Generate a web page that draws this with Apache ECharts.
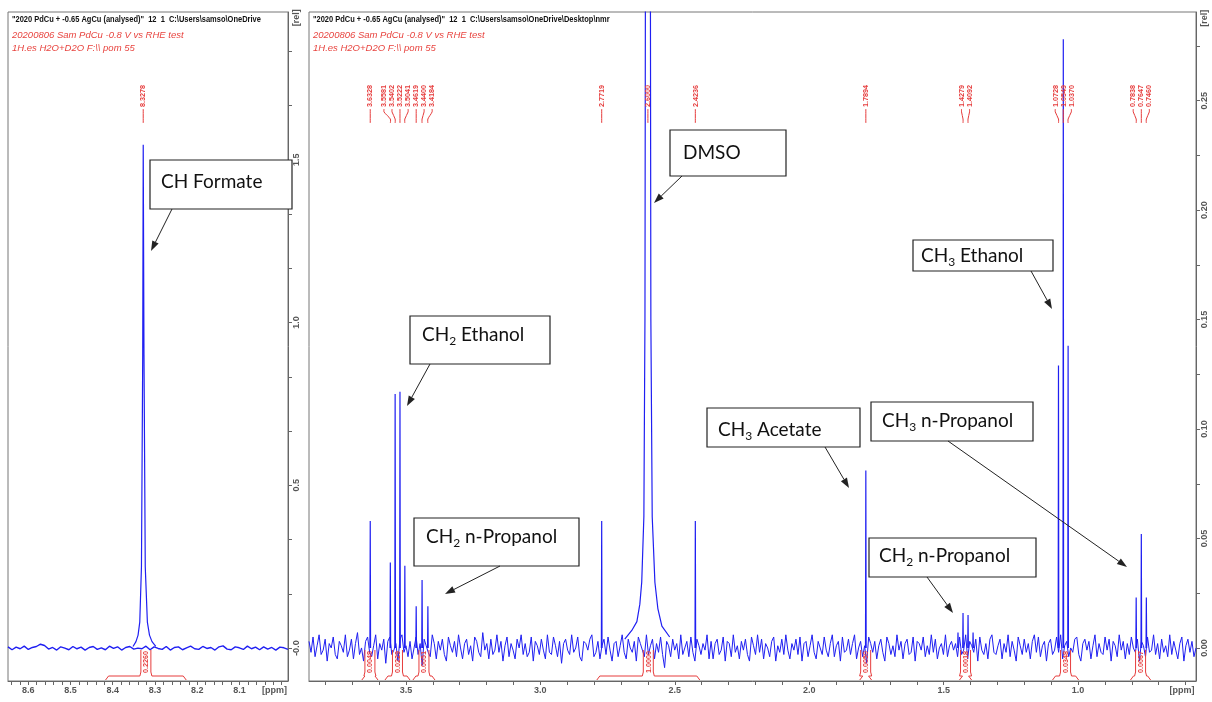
<!DOCTYPE html>
<html><head><meta charset="utf-8">
<script src="https://cdn.jsdelivr.net/npm/echarts@6/dist/echarts.min.js"></script>
<style>html,body{margin:0;padding:0;background:#fff}#c{width:1212px;height:702px}</style>
</head><body><div id="c"></div>
<script>
// ================= DATA =================
// axis ranges (ppm, rel)
const leftPpmRange = [7.985, 8.648];
const rightPpmRange = [0.5613, 3.8606];
const leftRelRange = [-0.101, 1.954];
const rightRelRange = [-0.0151, 0.2905];

// tick labels
const leftXTickLabels = [8.6, 8.5, 8.4, 8.3, 8.2, 8.1];
const rightXTickLabels = [3.5, 3.0, 2.5, 2.0, 1.5, 1.0];
const leftYTickLabels = [0, 0.5, 1.0, 1.5];
const rightYTickLabels = [0, 0.05, 0.10, 0.15, 0.20, 0.25];
const leftPpmUnitAt = 8.017, rightPpmUnitAt = 0.613;
const leftRelUnitAt = 1.936, rightRelUnitAt = 0.2877;

// baseline noise (thousandths of rel), evenly sampled across each panel
const leftNoise = [4,-5,3,-2,6,-4,2,5,12,8, -3,2,-6,4,0,-5,5,-2,3,-6, 2,5,-4,1,-5,6,-1,4,-6,2,
  5,-3,0,-2,6,-5,4,-1,-4,5, -6,2,4,-5,1,6,-2,-4,5,-1, 2,-6,4,7,-3,-5,4,1,-4,6, -2,3,-5,4,-3,2,-6,3,1,-4];
const rightNoise = [
  3,-2,5,-4,1,6,-3,-1,4,-6,2,0,5,-3,-5,3,1,-2,6,-4,
  -1,4,-5,2,7,-3,0,-6,3,5,-2,-4,1,6,-5,2,-1,4,-7,3,
  5,-3,-1,2,-6,4,6,-2,1,-4,3,-5,0,5,-3,2,-8,4,1,-2,
  -4,6,2,-5,3,-1,4,-3,-6,5,1,-2,3,-4,6,0,-5,2,4,-3,
  1,-6,5,3,-2,-4,7,-1,2,-5,4,-3,-1,6,-2,3,-6,1,5,-4,
  2,-1,-5,4,0,6,-3,2,-4,-2,5,-6,3,1,-3,4,-1,-5,6,-2,
  -3,5,1,-4,3,-7,2,4,-1,-3,6,-2,0,5,-4,-6,3,2,-1,4,
  6,-4,-2,3,-5,1,4,-3,5,-1,-6,2,3,-4,1,6,-2,-5,4,0,
  -2,3,-6,5,2,-1,-4,6,-3,1,4,-5,2,-2,5,-3,-9,3,1,-4,
  4,-1,2,-5,6,-3,0,3,-4,5,-2,-6,4,1,-3,2,-1,6,-5,3,
  -5,2,4,-3,-1,5,-6,3,2,-4,6,-2,1,-5,3,-1,4,-3,-6,5,
  1,-3,6,-2,4,-5,2,0,-4,3,5,-6,1,-2,4,-3,6,-1,-5,2,
  -1,4,-3,5,-6,2,3,-4,1,6,-2,-5,3,0,-3,5,-1,-4,2,6,
  -4,1,3,-6,5,-2,-1,4,-3,2,6,-5,0,3,-4,1,-7,5,2,-2,
  3,-5,1,4,-2,-6,5,2,-3,1,-4,6,-1,3,-5,2,4,-3,-2,5,
  -6,3,2,-1,5,-4,1,-3,6,-2,4,-5,0,2,-3,6,-4,1,3,-1,
  2,-4,5,-3,-1,6,-5,3,1,-2,4,-6,5,-1,-3,2,-5,4,6,-2,
  -3,1,4,-5,2,-2,6,-4,3,-1,-6,5,1,-3,4,-2,2,-5,3,6,
  -2,5,-4,1,3,-6,2,4,-3,-1,5,-2,6,-5,1,3,-4,0,-2,4,
  5,-3,-6,2,4,-1,3,-5,1,6,-4,2,-2,-3,5,-1,4,-6,3,1,
  -4,6,-1,3,-5,2,-3,5,0,-2,4,-6,3,1,-4,5,-2,-1,6,-3,
  2,-5,4,-2,1,-4,6,-3,3,-1,-5,2,5,-6,1,4,-2,3,-4,0];

// formate peak (left panel) profile
const formatePpm = [8.352, 8.345, 8.340, 8.336, 8.332, 8.329, 8.3278, 8.326, 8.323, 8.318, 8.313, 8.307, 8.298];
const formateRel = [0.005, 0.02, 0.04, 0.08, 0.25, 0.9, 1.546, 0.9, 0.25, 0.08, 0.04, 0.02, 0.005];

// DMSO peak profile (right panel; top clipped)
const dmsoPpm = [2.686, 2.660, 2.641, 2.630, 2.623, 2.615, 2.611, 2.606, 2.600, 2.594, 2.589, 2.584, 2.574, 2.563, 2.548, 2.519];
const dmsoRel = [0.004, 0.008, 0.012, 0.02, 0.03, 0.06, 0.15, 0.6, 1.5, 0.6, 0.15, 0.06, 0.03, 0.018, 0.01, 0.005];

// narrow peaks (right panel)
const peakPpm = [3.6328, 3.5581, 3.5402, 3.5222, 3.5041, 3.4619, 3.4400, 3.4184, 2.7719, 2.4236, 1.7894,
  1.4466, 1.4279, 1.4092, 1.3905, 1.0728, 1.0549, 1.0370, 0.7838, 0.7647, 0.7460];
const peakRel = [0.058, 0.039, 0.116, 0.117, 0.0375, 0.019, 0.031, 0.019, 0.058, 0.058, 0.081,
  0.007, 0.016, 0.015, 0.007, 0.129, 0.278, 0.138, 0.023, 0.052, 0.023];

// peak pick labels
const leftPeakLabels = ['8.3278'];
const rightPeakLabels = ['3.6328','3.5581','3.5402','3.5222','3.5041','3.4619','3.4400','3.4184','2.7719','2.6000',
  '2.4236','1.7894','1.4279','1.4092','1.0728','1.0549','1.0370','0.7838','0.7647','0.7460'];

// integrals
const leftIntegralFrom = [8.417], leftIntegralTo = [8.226], leftIntegralValue = ['0.2260'];
const rightIntegralFrom = [3.664, 3.578, 3.474, 2.790, 1.812, 1.441, 1.095, 0.805];
const rightIntegralTo   = [3.604, 3.485, 3.392, 2.407, 1.768, 1.396, 0.998, 0.730];
const rightIntegralValue = ['0.0048','0.0229','0.0051','1.0000','0.0050','0.0018','0.0348','0.0067'];

// header texts
const headerTitleLeft = '"2020 PdCu + -0.65 AgCu (analysed)"  12  1  C:\\Users\\samso\\OneDrive';
const headerTitleRight = '"2020 PdCu + -0.65 AgCu (analysed)"  12  1  C:\\Users\\samso\\OneDrive\\Desktop\\nmr';
const headerLine2 = '20200806 Sam PdCu -0.8 V vs RHE test';
const headerLine3 = '1H.es H2O+D2O F:\\\\ pom 55';

// annotation texts
const annotationTexts = ['CH Formate', 'DMSO', 'CH2 Ethanol', 'CH3 Ethanol', 'CH3 Acetate', 'CH3 n-Propanol', 'CH2 n-Propanol', 'CH2 n-Propanol'];

// ================= LAYOUT / STYLE =================
const BLUE = '#1f1ff2', RED = '#e63c3c', AXIS = '#666', LBL = '#555';
// [boxX, boxY, boxW, boxH, textX, textY, fromX, fromY, toX, toY]
const annotationLayout = [
  [150,160,142,49, 161,182, 172,209, 151,251],
  [670,130,116,46, 683,153, 682,176, 654,203],
  [410,316,140,48, 422,335, 430,364, 407,406],
  [913,240,140,31, 921,256, 1031,271, 1052,309],
  [707,408,153,39, 718,430, 825,447, 849,488],
  [871,402,162,39, 882,421, 948,441, 1127,567],
  [414,518,165,48, 426,537, 500,566, 445,594],
  [869,538,167,39, 879,556, 927,577, 953,613]
];
const GRID_TOP = 12, GRID_H = 669, GRID_BOTTOM = GRID_TOP + GRID_H;

function steps(a, b, d) { const out = []; for (let v = a; v <= b + 1e-9; v += d) out.push(+v.toFixed(4)); return out; }
const leftXTicks = steps(8.0, 8.64, 0.02);
const rightXTicks = steps(0.6, 3.8, 0.1);
const leftYTicks = steps(0, 1.84, 1/6);
const rightYTicks = steps(0, 0.28, 0.025);

const axisFont = { fontSize: 9, fontWeight: 'bold', color: LBL, fontFamily: 'Liberation Sans' };

function xAxisCfg(grid, range, ticks, labels, unitAt) {
  return {
    gridIndex: grid, type: 'value', inverse: true, min: range[0], max: range[1], position: 'bottom',
    axisLine: { show: true, onZero: false, lineStyle: { color: AXIS } },
    splitLine: { show: false },
    axisTick: { show: true, customValues: ticks, length: 4, lineStyle: { color: AXIS } },
    axisLabel: Object.assign({ customValues: labels.concat([unitAt]), margin: 5,
      formatter: v => Math.abs(v - unitAt) < 1e-6 ? '[ppm]' : v.toFixed(1) }, axisFont)
  };
}
function yAxisCfg(grid, range, ticks, labels, unitAt, dec) {
  return {
    gridIndex: grid, type: 'value', min: range[0], max: range[1], position: 'right',
    axisLine: { show: true, onZero: false, lineStyle: { color: AXIS } },
    splitLine: { show: false },
    axisTick: { show: true, customValues: ticks, length: 4, lineStyle: { color: AXIS } },
    axisLabel: Object.assign({ customValues: labels.concat([unitAt]), margin: 4, rotate: 90,
      formatter: v => Math.abs(v - unitAt) < 1e-6 ? '[rel]' : (v === 0 ? (dec === 1 ? '-0.0' : '0.00') : v.toFixed(dec)) }, axisFont)
  };
}

function noiseData(noise, range) {
  const n = noise.length;
  return noise.map((v, i) => [range[1] - i * (range[1] - range[0]) / (n - 1), v / 1000]);
}
function lineSeries(xi, data, width) {
  return { type: 'line', xAxisIndex: xi, yAxisIndex: xi, data: data, symbol: 'none', silent: true,
    animation: false, lineStyle: { width: width || 1, color: BLUE }, clip: true, z: 3 };
}

const series = [];
series.push(lineSeries(0, noiseData(leftNoise, leftPpmRange), 1.4));
series.push(lineSeries(0, formatePpm.map((p, i) => [p, formateRel[i]]), 1.2));
series.push(lineSeries(1, noiseData(rightNoise, rightPpmRange), 1));
series.push(lineSeries(1, dmsoPpm.map((p, i) => [p, dmsoRel[i]]), 1.2));
peakPpm.forEach((p, i) => series.push(lineSeries(1, [[p + 0.0012, 0], [p, peakRel[i]], [p - 0.0012, 0]], 1.2)));

const option = {
  animation: false,
  backgroundColor: '#ffffff',
  grid: [
    { left: 8, top: GRID_TOP, width: 280, height: GRID_H, show: true, borderColor: '#777', borderWidth: 1 },
    { left: 309, top: GRID_TOP, width: 887, height: GRID_H, show: true, borderColor: '#777', borderWidth: 1 }
  ],
  xAxis: [
    xAxisCfg(0, leftPpmRange, leftXTicks, leftXTickLabels, leftPpmUnitAt),
    xAxisCfg(1, rightPpmRange, rightXTicks, rightXTickLabels, rightPpmUnitAt)
  ],
  yAxis: [
    yAxisCfg(0, leftRelRange, leftYTicks, leftYTickLabels, leftRelUnitAt, 1),
    yAxisCfg(1, rightRelRange, rightYTicks, rightYTickLabels, rightRelUnitAt, 2)
  ],
  series: series
};

const chart = echarts.init(document.getElementById('c'), null, { renderer: 'canvas' });
chart.setOption(option);

// ================= DECORATION (peak labels, integrals, header, annotations) =================
const px = (ai, v) => chart.convertToPixel({ xAxisIndex: ai }, v);

function spread(xs, gap) {
  let clusters = xs.map((x, i) => ({ s: i, e: i, c: x }));
  let changed = true;
  while (changed) {
    changed = false;
    for (let k = 0; k < clusters.length - 1; k++) {
      const a = clusters[k], b = clusters[k + 1];
      const aR = a.c + (a.e - a.s) * gap / 2, bL = b.c - (b.e - b.s) * gap / 2;
      if (bL - aR < gap) {
        let m = 0; for (let i = a.s; i <= b.e; i++) m += xs[i]; m /= (b.e - a.s + 1);
        clusters.splice(k, 2, { s: a.s, e: b.e, c: m }); changed = true; break;
      }
    }
  }
  const pos = xs.slice();
  clusters.forEach(c => { const w = (c.e - c.s) * gap; for (let i = c.s; i <= c.e; i++) pos[i] = c.c - w / 2 + (i - c.s) * gap; });
  return pos;
}

const G = [];
function txt(x, y, text, font, fill, extra) {
  return Object.assign({ type: 'text', x: x, y: y, silent: true, z: 50,
    style: { text: text, font: font, fill: fill, align: 'left', textAlign: 'left', verticalAlign: 'middle', textVerticalAlign: 'middle' } }, extra || {});
}
const LABEL_FONT = 'bold 8px "Liberation Sans"';
function peakLabels(ai, labels) {
  const xs = labels.map(l => px(ai, parseFloat(l)));
  const ls = spread(xs, 8);
  labels.forEach((l, i) => {
    G.push({ type: 'text', x: ls[i], y: 96, rotation: Math.PI / 2, scaleX: 0.9, silent: true, z: 40,
      style: { text: l, font: LABEL_FONT, fill: RED,
        align: 'center', textAlign: 'center', verticalAlign: 'middle', textVerticalAlign: 'middle' } });
    const pts = Math.abs(ls[i] - xs[i]) < 0.5 ? [[xs[i], 109], [xs[i], 123]]
      : [[ls[i], 109], [ls[i], 112], [xs[i], 119], [xs[i], 123]];
    G.push({ type: 'polyline', silent: true, z: 40, shape: { points: pts, smooth: 0.3 }, style: { stroke: RED, lineWidth: 1, fill: null } });
  });
}
function integrals(ai, from, to, vals) {
  from.forEach((f, i) => {
    const x1 = px(ai, f), x2 = px(ai, to[i]), xm = (x1 + x2) / 2;
    const yb = GRID_BOTTOM - 1, yf = GRID_BOTTOM - 5, yc = GRID_BOTTOM - 9, yt = GRID_BOTTOM - 31;
    G.push({ type: 'polyline', silent: true, z: 40, style: { stroke: RED, lineWidth: 1, fill: null },
      shape: { points: [[x1, yb], [x1 + 3, yf], [xm - 6, yf], [xm - 5, yc], [xm - 5, yt]] } });
    G.push({ type: 'polyline', silent: true, z: 40, style: { stroke: RED, lineWidth: 1, fill: null },
      shape: { points: [[x2, yb], [x2 - 3, yf], [xm + 6, yf], [xm + 5, yc], [xm + 5, yt]] } });
    G.push({ type: 'text', x: xm, y: GRID_BOTTOM - 19, rotation: Math.PI / 2, scaleX: 0.9, silent: true, z: 40,
      style: { text: vals[i], font: LABEL_FONT, fill: RED,
        align: 'center', textAlign: 'center', verticalAlign: 'middle', textVerticalAlign: 'middle' } });
  });
}
peakLabels(0, leftPeakLabels);
peakLabels(1, rightPeakLabels);
integrals(0, leftIntegralFrom, leftIntegralTo, leftIntegralValue);
integrals(1, rightIntegralFrom, rightIntegralTo, rightIntegralValue);

// headers (title text horizontally condensed to match the original's narrow face)
const TITLE_SCALE = 0.88;
[[12, headerTitleLeft, 276], [313, headerTitleRight, 880]].forEach(h => {
  const t = txt(h[0], 20, h[1], 'bold 8.5px "Liberation Sans"', '#111', { scaleX: TITLE_SCALE });
  t.style.width = h[2] / TITLE_SCALE; t.style.overflow = 'truncate'; t.style.ellipsis = '';
  G.push(t);
  G.push(txt(h[0], 35, headerLine2, 'italic 9.5px "Liberation Sans"', '#e8443f'));
  G.push(txt(h[0], 48, headerLine3, 'italic 9.5px "Liberation Sans"', '#e8443f'));
});

// annotation boxes
function richText(t) {
  const m = t.match(/^CH(\d)(.*)$/);
  return m ? '{n|CH}{s|' + m[1] + '}{n|' + m[2] + '}' : '{n|' + t + '}';
}
annotationTexts.forEach((t, i) => {
  const L = annotationLayout[i];
  G.push({ type: 'rect', silent: true, z: 60, shape: { x: L[0], y: L[1], width: L[2], height: L[3] },
    style: { fill: '#fff', stroke: '#222', lineWidth: 1.2 } });
  G.push({ type: 'text', x: L[4], y: L[5], silent: true, z: 61,
    style: { text: richText(t), align: 'left', textAlign: 'left', verticalAlign: 'middle', textVerticalAlign: 'middle',
      rich: { n: { fontSize: 19, fontFamily: 'Lato', fill: '#111', lineHeight: 24 },
              s: { fontSize: 12, fontFamily: 'Lato', fill: '#111', lineHeight: 13, verticalAlign: 'bottom' } } } });
  const x1 = L[6], y1 = L[7], x2 = L[8], y2 = L[9];
  const ang = Math.atan2(y2 - y1, x2 - x1), AL = 10, AW = 3.5;
  const bx = x2 - AL * Math.cos(ang), by = y2 - AL * Math.sin(ang);
  const ox = -Math.sin(ang) * AW, oy = Math.cos(ang) * AW;
  G.push({ type: 'line', silent: true, z: 60, shape: { x1: x1, y1: y1, x2: bx, y2: by }, style: { stroke: '#222', lineWidth: 1 } });
  G.push({ type: 'polygon', silent: true, z: 60, shape: { points: [[x2, y2], [bx + ox, by + oy], [bx - ox, by - oy]] }, style: { fill: '#222' } });
});

chart.setOption({ graphic: { elements: G } });
</script>
</body></html>
